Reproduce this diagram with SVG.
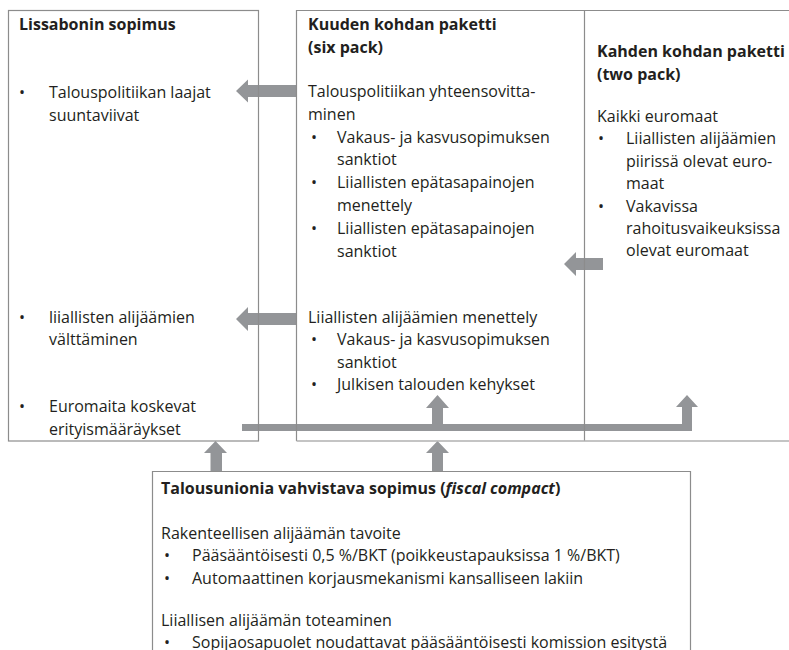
<svg xmlns="http://www.w3.org/2000/svg" width="789" height="650" viewBox="0 0 789 650">
<style>
text{font-family:"Open Sans","Noto Sans","Liberation Sans",sans-serif;font-size:16px;fill:#231f20}
.b{font-weight:bold}
.box{fill:none;stroke:#8c8c8c;stroke-width:1.2}
.lt{fill:none;stroke:#b0b0b0;stroke-width:1.6}
.arr{fill:#939598;stroke:none}
</style>
<rect width="789" height="650" fill="#ffffff"/>
<g id="connectors">
<polygon class="arr" points="236,91 248,79.5 248,85 296,85 296,97 248,97 248,102.5"/>
<polygon class="arr" points="236,319 248,307 248,313 296,313 296,325 248,325 248,331"/>
<polygon class="arr" points="564,264 576,252 576,258 603,258 603,270 576,270 576,276"/>
<polygon class="arr" points="242,424 682,424 682,407 676,407 687,395 698,407 692,407 692,431 242,431"/>
<polygon class="arr" points="432,424 432,408 426,408 437.5,395 449,408 443,408 443,424"/>
<polygon class="arr" points="210.5,471 210.5,453 204,453 215.5,441 227,453 222,453 222,471"/>
<polygon class="arr" points="432,471 432,453 426,453 437.5,441 449,453 443,453 443,471"/>
</g>
<g id="n-lissabon">
<rect class="box" x="8.5" y="10.5" width="250" height="430.5"/>
<text class="b" x="19" y="30">Lissabonin sopimus</text>
<text x="19" y="98">•</text><text x="49" y="98">Talouspolitiikan laajat</text>
<text x="49" y="120.5">suuntaviivat</text>
<text x="19" y="322.5">•</text><text x="49" y="322.5">liiallisten alijäämien</text>
<text x="49" y="345">välttäminen</text>
<text x="19" y="412">•</text><text x="49" y="412">Euromaita koskevat</text>
<text x="49" y="434.5">erityismääräykset</text>
</g>
<g id="n-sixpack">
<path class="box" d="M296.5,441 V10.5 H584.5 V441"/>
<text class="b" x="308" y="30">Kuuden kohdan paketti</text>
<text class="b" x="308" y="52.5">(six pack)</text>
<text x="308" y="97">Talouspolitiikan yhteensovitta-</text>
<text x="308" y="119.8">minen</text>
<text x="311" y="142.6">•</text><text x="337" y="142.6">Vakaus- ja kasvusopimuksen</text>
<text x="337" y="165.4">sanktiot</text>
<text x="311" y="188.2">•</text><text x="337" y="188.2">Liiallisten epätasapainojen</text>
<text x="337" y="211">menettely</text>
<text x="311" y="233.8">•</text><text x="337" y="233.8">Liiallisten epätasapainojen</text>
<text x="337" y="256.6">sanktiot</text>
<text x="308" y="322.5">Liiallisten alijäämien menettely</text>
<text x="311" y="345">•</text><text x="337" y="345">Vakaus- ja kasvusopimuksen</text>
<text x="337" y="367.5">sanktiot</text>
<text x="311" y="390">•</text><text x="337" y="390">Julkisen talouden kehykset</text>
</g>
<g id="n-twopack">
<path class="box" d="M584.5,10.5 H789"/>
<line class="lt" x1="296.5" y1="441" x2="789" y2="441"/>
<text class="b" x="597" y="57">Kahden kohdan paketti</text>
<text class="b" x="597" y="79.5">(two pack)</text>
<text x="597" y="121.5">Kaikki euromaat</text>
<text x="598" y="144">•</text><text x="626" y="144">Liiallisten alijäämien</text>
<text x="626" y="166.5">piirissä olevat euro-</text>
<text x="626" y="189">maat</text>
<text x="598" y="211.5">•</text><text x="626" y="211.5">Vakavissa</text>
<text x="626" y="234">rahoitusvaikeuksissa</text>
<text x="626" y="256">olevat euromaat</text>
</g>
<g id="n-fiscal">
<path class="box" d="M152.5,650 V471.5 H690.5 V650"/>
<text class="b" x="161" y="494">Talousunionia vahvistava sopimus (<tspan font-style="italic">fiscal compact</tspan>)</text>
<text x="161" y="538.5">Rakenteellisen alijäämän tavoite</text>
<text x="164" y="561">•</text><text x="192" y="561">Pääsääntöisesti 0,5 %/BKT (poikkeustapauksissa 1 %/BKT)</text>
<text x="164" y="583.5">•</text><text x="192" y="583.5">Automaattinen korjausmekanismi kansalliseen lakiin</text>
<text x="161" y="626">Liiallisen alijäämän toteaminen</text>
<text x="164" y="648">•</text><text x="192" y="648">Sopijaosapuolet noudattavat pääsääntöisesti komission esitystä</text>
</g>
</svg>
